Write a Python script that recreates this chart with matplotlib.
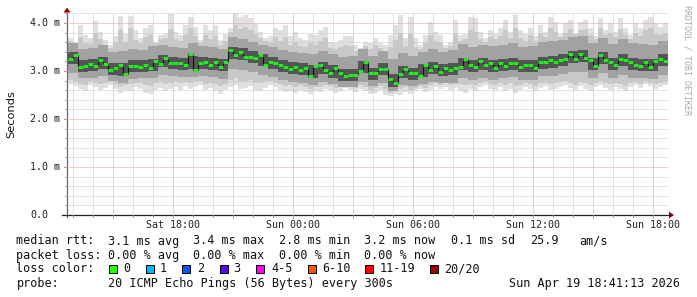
import numpy as np
import matplotlib
matplotlib.use('Agg')
import matplotlib.pyplot as plt
from matplotlib.patches import Rectangle, Polygon
from matplotlib.lines import Line2D
import matplotlib.transforms as mtransforms

W, H, DPI = 697, 297, 100

# ---------------- data (time in hours since Sat 00:00, values in ms) -------------
t_start = 12.75
step = 0.25
median = [3.25, 3.33, 3.09, 3.10, 3.15, 3.10, 3.22, 3.14, 3.02, 3.07,
          3.13, 2.93, 3.10, 3.10, 3.09, 3.13, 3.07, 3.20, 3.15, 3.28,
          3.17, 3.17, 3.17, 3.12, 3.35, 3.02, 3.16, 3.18, 3.13, 3.19,
          3.08, 3.18, 3.44, 3.33, 3.40, 3.30, 3.30, 3.28, 3.33, 3.13,
          3.19, 3.16, 3.12, 3.08, 3.05, 3.08, 3.02, 3.06, 2.90, 3.11,
          3.12, 3.02, 2.95, 3.06, 2.95, 2.90, 2.92, 2.92, 3.00, 3.18,
          2.95, 2.95, 3.05, 3.05, 2.83, 2.76, 2.93, 3.05, 2.95, 2.95,
          2.90, 3.12, 3.02, 3.11, 2.98, 3.06, 3.02, 3.06, 3.08, 3.25,
          3.12, 3.08, 3.20, 3.12, 3.16, 3.06, 3.16, 3.11, 3.16, 3.16,
          3.08, 3.13, 3.13, 3.06, 3.18, 3.18, 3.22, 3.18, 3.22, 3.25,
          3.35, 3.26, 3.35, 3.28, 3.22, 3.11, 3.33, 3.22, 3.18, 3.13,
          3.25, 3.22, 3.18, 3.13, 3.11, 3.18, 3.08, 3.20, 3.26, 3.20]
smoke_max = [3.68, 3.51, 3.95, 3.75, 3.68, 4.05, 3.82, 3.65, 3.54, 3.72,
             4.15, 3.78, 4.15, 3.85, 3.68, 3.89, 3.96, 3.61, 3.75, 3.78,
             4.18, 3.82, 3.75, 3.96, 4.12, 3.92, 3.65, 3.96, 3.85, 3.96,
             3.65, 3.78, 3.89, 4.20, 4.13, 4.17, 4.10, 3.99, 3.82, 3.68,
             3.72, 3.89, 3.85, 3.96, 3.72, 3.82, 3.68, 3.65, 3.78, 3.75,
             3.85, 3.92, 3.61, 3.58, 3.65, 3.72, 3.72, 3.54, 3.47, 3.61,
             3.58, 3.68, 3.58, 3.54, 3.75, 3.96, 4.17, 3.68, 4.13, 3.68,
             3.54, 3.75, 4.03, 3.82, 3.75, 3.54, 3.61, 4.06, 3.75, 3.78,
             4.13, 4.10, 3.82, 3.68, 3.85, 3.78, 3.89, 4.06, 3.82, 4.17,
             3.85, 3.78, 3.89, 3.72, 3.96, 3.82, 4.13, 4.03, 3.78, 4.00,
             4.06, 3.75, 4.03, 4.06, 3.89, 3.72, 4.10, 3.85, 3.99, 3.82,
             4.10, 3.89, 3.75, 3.99, 3.89, 4.06, 4.13, 3.99, 3.92, 3.99]
smoke_hi3 = [3.62, 3.50, 3.70, 3.58, 3.56, 3.80, 3.66, 3.55, 3.48, 3.60,
             3.85, 3.60, 3.90, 3.65, 3.58, 3.70, 3.75, 3.58, 3.66, 3.68,
             3.88, 3.66, 3.62, 3.75, 3.90, 3.72, 3.58, 3.74, 3.66, 3.72,
             3.55, 3.62, 3.82, 3.95, 3.88, 3.92, 3.85, 3.78, 3.68, 3.62,
             3.60, 3.70, 3.62, 3.70, 3.55, 3.60, 3.52, 3.50, 3.58, 3.55,
             3.62, 3.68, 3.48, 3.45, 3.50, 3.55, 3.52, 3.42, 3.40, 3.52,
             3.45, 3.55, 3.48, 3.40, 3.50, 3.65, 3.80, 3.52, 3.78, 3.50,
             3.45, 3.58, 3.75, 3.62, 3.58, 3.48, 3.52, 3.78, 3.62, 3.66,
             3.85, 3.82, 3.66, 3.60, 3.70, 3.66, 3.72, 3.85, 3.68, 3.90,
             3.68, 3.62, 3.74, 3.62, 3.78, 3.70, 3.90, 3.82, 3.70, 3.80,
             3.88, 3.78, 3.85, 3.88, 3.75, 3.66, 3.90, 3.76, 3.80, 3.70,
             3.88, 3.76, 3.66, 3.80, 3.72, 3.85, 3.90, 3.78, 3.74, 3.80]
smoke_lo3 = [2.82, 2.78, 2.72, 2.70, 2.78, 2.76, 2.72, 2.76, 2.80, 2.72,
             2.66, 2.70, 2.72, 2.76, 2.74, 2.70, 2.68, 2.74, 2.78, 2.72,
             2.76, 2.80, 2.74, 2.78, 2.74, 2.78, 2.80, 2.72, 2.76, 2.72,
             2.68, 2.72, 2.82, 2.86, 2.78, 2.80, 2.82, 2.76, 2.74, 2.78,
             2.80, 2.76, 2.72, 2.68, 2.70, 2.66, 2.70, 2.66, 2.62, 2.66,
             2.66, 2.70, 2.68, 2.64, 2.66, 2.70, 2.68, 2.64, 2.70, 2.66,
             2.60, 2.64, 2.68, 2.62, 2.54, 2.58, 2.62, 2.66, 2.60, 2.64,
             2.68, 2.64, 2.70, 2.74, 2.70, 2.74, 2.70, 2.72, 2.72, 2.70,
             2.72, 2.70, 2.76, 2.78, 2.72, 2.70, 2.74, 2.70, 2.74, 2.68,
             2.70, 2.74, 2.72, 2.68, 2.74, 2.76, 2.72, 2.74, 2.78, 2.80,
             2.74, 2.70, 2.78, 2.74, 2.70, 2.74, 2.80, 2.76, 2.72, 2.74,
             2.72, 2.68, 2.74, 2.78, 2.72, 2.80, 2.76, 2.72, 2.74, 2.78]
smoke_min = [2.72, 2.68, 2.62, 2.58, 2.70, 2.66, 2.60, 2.64, 2.70, 2.62,
             2.55, 2.60, 2.58, 2.66, 2.62, 2.55, 2.52, 2.60, 2.64, 2.58,
             2.62, 2.66, 2.60, 2.68, 2.62, 2.66, 2.70, 2.60, 2.64, 2.58,
             2.52, 2.60, 2.66, 2.70, 2.62, 2.64, 2.68, 2.60, 2.58, 2.64,
             2.70, 2.66, 2.60, 2.56, 2.58, 2.54, 2.60, 2.56, 2.52, 2.58,
             2.56, 2.62, 2.60, 2.55, 2.58, 2.64, 2.60, 2.56, 2.62, 2.58,
             2.52, 2.55, 2.60, 2.50, 2.48, 2.52, 2.50, 2.56, 2.52, 2.58,
             2.62, 2.56, 2.60, 2.66, 2.62, 2.66, 2.60, 2.64, 2.58, 2.55,
             2.62, 2.58, 2.66, 2.70, 2.62, 2.60, 2.66, 2.58, 2.62, 2.55,
             2.60, 2.66, 2.62, 2.58, 2.64, 2.68, 2.60, 2.62, 2.66, 2.70,
             2.64, 2.60, 2.68, 2.62, 2.58, 2.66, 2.70, 2.64, 2.60, 2.66,
             2.62, 2.58, 2.66, 2.70, 2.64, 2.72, 2.68, 2.62, 2.66, 2.70]

band_step = 0.5
smoke_hi2 = [3.58, 3.45, 3.48, 3.55, 3.40, 3.42, 3.46, 3.44, 3.52, 3.55,
             3.50, 3.48, 3.58, 3.52, 3.50, 3.46, 3.70, 3.66, 3.60, 3.55,
             3.50, 3.44, 3.40, 3.38, 3.36, 3.42, 3.35, 3.30, 3.32, 3.45,
             3.32, 3.42, 3.25, 3.38, 3.32, 3.40, 3.45, 3.40, 3.44, 3.56,
             3.50, 3.55, 3.52, 3.55, 3.58, 3.50, 3.52, 3.60, 3.62, 3.65,
             3.70, 3.72, 3.58, 3.68, 3.56, 3.66, 3.58, 3.56, 3.55, 3.62]
smoke_lo2 = [2.95, 2.85, 2.86, 2.90, 2.80, 2.76, 2.84, 2.85, 2.86, 2.92,
             2.90, 2.88, 2.88, 2.90, 2.88, 2.84, 3.05, 3.02, 2.98, 2.92,
             2.88, 2.82, 2.78, 2.76, 2.70, 2.78, 2.72, 2.66, 2.66, 2.78,
             2.68, 2.76, 2.58, 2.70, 2.68, 2.72, 2.78, 2.74, 2.76, 2.86,
             2.82, 2.86, 2.82, 2.85, 2.88, 2.82, 2.82, 2.90, 2.90, 2.93,
             2.98, 2.98, 2.86, 2.96, 2.86, 2.92, 2.86, 2.85, 2.84, 2.92]
smoke_hi1 = [3.40, 3.22, 3.24, 3.30, 3.17, 3.16, 3.22, 3.23, 3.26, 3.33,
             3.29, 3.27, 3.32, 3.29, 3.28, 3.25, 3.50, 3.47, 3.41, 3.35,
             3.29, 3.22, 3.18, 3.16, 3.13, 3.19, 3.12, 3.05, 3.05, 3.21,
             3.07, 3.17, 2.93, 3.11, 3.07, 3.14, 3.18, 3.14, 3.16, 3.28,
             3.22, 3.28, 3.23, 3.25, 3.28, 3.22, 3.22, 3.30, 3.32, 3.35,
             3.42, 3.43, 3.28, 3.39, 3.27, 3.35, 3.27, 3.26, 3.26, 3.35]
smoke_lo1 = [3.15, 2.97, 2.99, 3.05, 2.92, 2.90, 2.97, 2.98, 3.00, 3.08,
             3.04, 3.02, 3.04, 3.04, 3.03, 3.00, 3.24, 3.22, 3.16, 3.10,
             3.04, 2.97, 2.93, 2.91, 2.86, 2.94, 2.86, 2.79, 2.79, 2.95,
             2.82, 2.92, 2.67, 2.86, 2.82, 2.88, 2.93, 2.89, 2.91, 3.03,
             2.97, 3.03, 2.98, 3.00, 3.03, 2.97, 2.97, 3.05, 3.07, 3.10,
             3.17, 3.18, 3.03, 3.14, 3.02, 3.10, 3.02, 3.01, 3.01, 3.10]

x_tick_hours = [18, 24, 30, 36, 42]
x_tick_labels = ['Sat 18:00', 'Sun 00:00', 'Sun 06:00', 'Sun 12:00', 'Sun 18:00']
y_tick_values = [0, 1, 2, 3, 4]
y_tick_labels = ['0.0', '1.0 m', '2.0 m', '3.0 m', '4.0 m']

rtt_stats = ['median rtt:', '3.1 ms avg', '3.4 ms max', '2.8 ms min', '3.2 ms now',
             '0.1 ms sd', '25.9', 'am/s']
loss_stats = ['packet loss:', '0.00 % avg', '0.00 % max', '0.00 % min', '0.00 % now']
loss_labels = ['0', '1', '2', '3', '4-5', '6-10', '11-19', '20/20']
loss_colors = ['#26ff00', '#00b8ff', '#0059ff', '#5e00ff', '#ff00ff', '#ff5500', '#ff0000', '#a10000']
probe_text = ['probe:', '20 ICMP Echo Pings (56 Bytes) every 300s']
date_text = 'Sun Apr 19 18:41:13 2026'
y_title = 'Seconds'
watermark = 'RRDTOOL / TOBI OETIKER'

# ---------------- figure -------------
MONO = 'DejaVu Sans Mono'
fig = plt.figure(figsize=(W / DPI, H / DPI), dpi=DPI, facecolor='white')

PX_L, PX_R, PX_B, PX_T = 67, 668, 215, 13.4
ax = fig.add_axes([PX_L / W, 1 - PX_B / H, (PX_R - PX_L) / W, (PX_B - PX_T) / H])
ax.set_facecolor('white')
x_left = 18 - (172.7 - PX_L) / 20.0
x_right = 18 + (PX_R - 172.7) / 20.0
ax.set_xlim(x_left, x_right)
ax.set_ylim(0, 4.2)
for s in ax.spines.values():
    s.set_visible(False)

def edges_vals(vals, t0, dt):
    v = np.asarray(vals, float)
    e = t0 + dt * np.arange(len(v) + 1)
    return e, np.append(v, v[-1])

e1, vmax = edges_vals(smoke_max, t_start, step)
_, vmin = edges_vals(smoke_min, t_start, step)
_, vhi3 = edges_vals(smoke_hi3, t_start, step)
_, vlo3 = edges_vals(smoke_lo3, t_start, step)
e2, vhi2 = edges_vals(smoke_hi2, t_start, band_step)
_, vlo2 = edges_vals(smoke_lo2, t_start, band_step)
_, vhi1 = edges_vals(smoke_hi1, t_start, band_step)
_, vlo1 = edges_vals(smoke_lo1, t_start, band_step)

ax.fill_between(e1, vmin, vmax, step='post', color='#e0e0e0', lw=0, zorder=1)

# grid (visible through the lightest smoke only)
px = 0.72
for h in np.arange(13, 43, 1):
    major = (h % 3 == 0)
    ax.axvline(h, color='#eb9a9a' if major else '#c8c8c8', lw=px,
               ls=(0, (1, 1)), zorder=1.5)
for yv in np.arange(0.2, 4.21, 0.2):
    major = abs(yv - round(yv)) < 1e-6
    ax.axhline(yv, color='#eb9a9a' if major else '#c8c8c8', lw=px,
               ls=(0, (1, 1)), zorder=1.5)

ax.fill_between(e1, vlo3, vhi3, step='post', color='#c8c8c8', lw=0, zorder=2)
ax.fill_between(e2, vlo2, vhi2, step='post', color='#a2a2a2', lw=0, zorder=3)
ax.fill_between(e2, vlo1, vhi1, step='post', color='#555555', lw=0, zorder=4)

# median
em, vmed = edges_vals(median, t_start, step)
ax.step(em, vmed, where='post', color='#111111', lw=0.8, zorder=5)
ax.hlines(median, em[:-1], em[1:], colors='#22ee22', lw=2.1, zorder=6)

ax.set_xticks([])
ax.set_yticks([])

# axis lines & arrows in pixel coords
def fx(x):
    return x / W
def fy(y):
    return 1 - y / H

fig.add_artist(Line2D([fx(67), fx(67)], [fy(217), fy(12)], color='#666666', lw=0.9))
fig.add_artist(Line2D([fx(62), fx(670)], [fy(215), fy(215)], color='#222222', lw=0.9))
fig.add_artist(Polygon([[fx(63.5), fy(12.5)], [fx(70.5), fy(12.5)], [fx(67), fy(7.5)]],
                       closed=True, color='#990000', lw=0))
fig.add_artist(Polygon([[fx(669), fy(211.5)], [fx(669), fy(218.5)], [fx(674), fy(215)]],
                       closed=True, color='#990000', lw=0))

# tick marks
xtr = mtransforms.blended_transform_factory(ax.transData, fig.transFigure)
for h in np.arange(13, 43, 1):
    major = (h % 3 == 0)
    L = 3 if major else 2
    fig.add_artist(Line2D([h, h], [fy(215), fy(215 + L)], transform=xtr,
                          color='#e08080' if major else '#999999', lw=0.7))
ytr = mtransforms.blended_transform_factory(fig.transFigure, ax.transData)
for yv in np.arange(0.2, 4.21, 0.2):
    major = abs(yv - round(yv)) < 1e-6
    L = 3 if major else 2
    fig.add_artist(Line2D([fx(67 - L), fx(67)], [yv, yv], transform=ytr,
                          color='#e08080' if major else '#999999', lw=0.7))

# tick labels
for h, lab in zip(x_tick_hours, x_tick_labels):
    fig.text(h, fy(224.5), lab, transform=xtr, ha='center', va='center',
             family=MONO, size=7.2, color='#222222')
for v, lab in zip(y_tick_values, y_tick_labels):
    xr = 60 if 'm' in lab else 48
    fig.text(fx(xr), v, lab, transform=ytr, ha='right', va='center',
             family=MONO, size=7.2, color='#222222')

fig.text(fx(11), fy(114), y_title, rotation=90, ha='center', va='center',
         family='DejaVu Sans', size=8.2, color='#111111')
fig.text(fx(687), fy(60), watermark, rotation=270, ha='center', va='center',
         family=MONO, size=6.0, color='#a8a8a8')

# legend
LS = 8.5
rtt_x = [16.4, 107.6, 193.3, 279, 364.4, 451, 530, 579]
for s, x in zip(rtt_stats, rtt_x):
    fig.text(fx(x), fy(241), s, ha='left', va='center', family=MONO, size=LS, color='#111111')
loss_x = [16.4, 107.6, 193.3, 279, 364.4]
for s, x in zip(loss_stats, loss_x):
    fig.text(fx(x), fy(255.5), s, ha='left', va='center', family=MONO, size=LS, color='#111111')
fig.text(fx(16.4), fy(269), 'loss color:', ha='left', va='center', family=MONO, size=LS, color='#111111')
box_x = [109, 146, 182, 220, 256, 307.5, 365, 430]
lab_x = [123.5, 160, 197, 233, 271, 322, 380, 444]
for c, lab, bx, lx in zip(loss_colors, loss_labels, box_x, lab_x):
    fig.add_artist(Rectangle((fx(bx), fy(273)), 8 / W, 8 / H, transform=fig.transFigure,
                             facecolor=c, edgecolor='#000000', lw=0.7))
    fig.text(fx(lx), fy(269), lab, ha='left', va='center', family=MONO, size=LS, color='#111111')
fig.text(fx(16.4), fy(283), probe_text[0], ha='left', va='center', family=MONO, size=LS, color='#111111')
fig.text(fx(107.6), fy(283), probe_text[1], ha='left', va='center', family=MONO, size=LS, color='#111111')
fig.text(fx(680), fy(283), date_text, ha='right', va='center', family=MONO, size=LS, color='#111111')

fig.savefig('out.png', dpi=DPI, facecolor='white')
